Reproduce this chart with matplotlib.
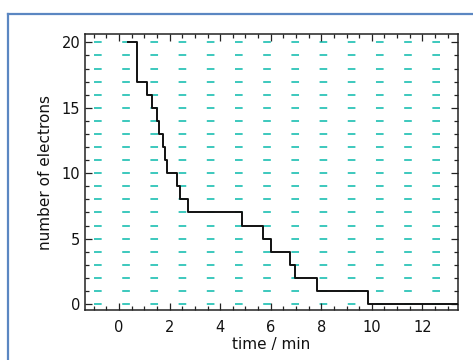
import matplotlib
matplotlib.use("Agg")
import matplotlib.pyplot as plt
from matplotlib.lines import Line2D
from matplotlib.ticker import MultipleLocator

plt.rcParams['font.family'] = ['DejaVu Sans']
plt.rcParams['lines.scale_dashes'] = False

# Times (min) at which the electron count steps down, and the count held after each time
step_times = [0.35, 0.70, 1.09, 1.29, 1.49, 1.59, 1.72, 1.82, 1.88, 2.29,
              2.40, 2.71, 4.88, 5.70, 6.03, 6.75, 6.97, 7.82, 9.83]
electron_counts = [20, 17, 16, 15, 14, 13, 12, 11, 10, 9,
                   8, 7, 6, 5, 4, 3, 2, 1, 0]
end_time = 13.5

# Integer reference levels
levels = list(range(0, 21))

x_ticks = [0, 2, 4, 6, 8, 10, 12]
y_ticks = [0, 5, 10, 15, 20]

fig = plt.figure(figsize=(4.73, 3.60), dpi=100)
ax = fig.add_axes([0.1797, 0.1389, 0.9677 - 0.1797, 0.9042 - 0.1389])

for lv in levels:
    ax.axhline(lv, color='#3cc8bd', lw=1.4,
               linestyle=(13.8, (5.5, 14.8)), zorder=1)

xs = step_times + [end_time]
ys = electron_counts + [electron_counts[-1]]
ax.step(xs, ys, where='post', color='#111111', lw=1.4, zorder=3)

ax.set_xlim(-1.35, 13.4)
ax.set_ylim(-0.45, 20.6)
ax.set_xticks(x_ticks)
ax.set_yticks(y_ticks)
ax.xaxis.set_minor_locator(MultipleLocator(0.5))
ax.yaxis.set_minor_locator(MultipleLocator(1))

ax.tick_params(which='both', direction='in', top=True, right=True,
               width=0.9, color='#222222', labelsize=10.5, labelcolor='#111111')
ax.tick_params(which='major', length=5)
ax.tick_params(which='minor', length=3)
ax.tick_params(axis='x', which='major', pad=7)
ax.tick_params(axis='y', which='major', pad=3.5)

for sp in ax.spines.values():
    sp.set_linewidth(1.1)
    sp.set_color('#222222')

ax.set_xlabel('time / min', fontsize=11, labelpad=2, color='#111111')
ax.set_ylabel('number of electrons', fontsize=11, labelpad=6, color='#111111')

# Blue frame along the left and top edges
fig.add_artist(Line2D([7.5 / 473, 7.5 / 473], [0, 1 - 14 / 360],
                      transform=fig.transFigure, color='#5b87c2', lw=1.6))
fig.add_artist(Line2D([7.5 / 473, 1], [1 - 14 / 360, 1 - 14 / 360],
                      transform=fig.transFigure, color='#5b87c2', lw=1.6))

fig.savefig('out.png', dpi=100)
